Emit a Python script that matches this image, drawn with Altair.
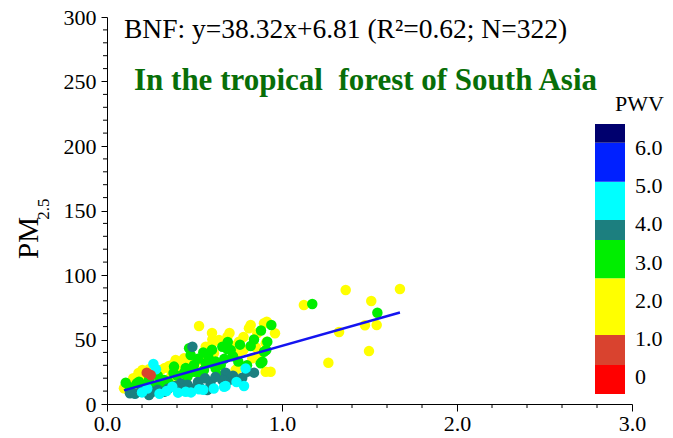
import altair as alt
import pandas as pd

# ---------------- data ----------------
# AOD (x) and PM2.5 (y), grouped by PWV colour class
YELLOW_X = [1.125, 1.364, 1.674, 1.51, 1.541, 1.474, 1.326, 1.497, 1.265, 0.96, 0.913, 0.913, 0.935,
            0.526, 0.821, 0.897, 0.859, 0.811, 0.602, 0.64, 0.688, 0.754, 0.564, 0.907, 0.611, 0.535, 0.83, 0.745, 0.907, 0.45, 0.44,
            0.097, 0.135, 0.173, 0.202, 0.307, 0.354, 0.402, 0.421, 0.211, 0.869, 0.754, 0.735, 0.602, 0.411, 0.392,
            0.15, 0.12, 0.18, 0.24, 0.28, 0.33, 0.37, 0.30, 0.26, 0.22, 0.16, 0.38, 0.42, 0.47, 0.50, 0.36, 0.20, 0.14,
            0.66, 0.70, 0.78, 0.85, 0.72, 0.60, 0.78]
YELLOW_Y = [76.7, 88.4, 89.1, 79.8, 61.2, 61.0, 55.8, 41.0, 32.0, 54.8, 63.8, 48.3, 25.0,
            60.5, 61.2, 62.6, 54.8, 58.7, 50.1, 49.6, 52.2, 48.3, 44.4, 47.0, 39.3, 34.1, 35.4, 27.6, 25.0, 18.6, 35.4,
            12.2, 16.0, 21.2, 26.4, 26.4, 29.5, 32.8, 21.2, 20.0, 38.0, 40.5, 26.4, 47.0, 16.0, 34.1,
            20, 14, 24, 27, 24, 28, 25, 20, 18, 15, 12, 31, 28, 33, 28, 20, 11, 10,
            47, 55, 52, 44, 45, 55, 42]
GREEN_X = [1.173, 1.545, 0.939, 0.91, 0.659, 0.688, 0.821, 0.897, 0.478, 0.888,
           0.592, 0.65, 0.497, 0.554, 0.63, 0.459, 0.107, 0.469, 0.383, 0.183,
           0.326, 0.878, 0.916, 0.707, 0.469, 0.535, 0.621, 0.564,
           0.13, 0.20, 0.27, 0.31, 0.35, 0.40, 0.44, 0.24, 0.29, 0.17, 0.50, 0.52, 0.58,
           0.62, 0.67, 0.72, 0.75, 0.80, 0.55, 0.60, 0.45, 0.38, 0.84, 0.76, 0.88, 0.69]
GREEN_Y = [77.5, 70.8, 61.2, 41.9, 44.4, 42.4, 45.0, 40.5, 38.0, 32.8,
           31.5, 30.2, 30.2, 26.4, 22.5, 21.2, 16.5, 43.2, 29.0, 17.3,
           18.6, 31.5, 48.3, 41.9, 23.8, 21.2, 27.6, 31.5,
           13, 14, 14, 15, 17, 22, 24, 19, 22, 16, 25, 35, 36,
           33, 35, 37, 33, 30, 40, 42, 28, 24, 50, 46, 57, 48]
TEAL_X = [0.488, 0.84, 0.678, 0.697, 0.773, 0.573, 0.592, 0.478, 0.131, 0.193, 0.259, 0.326, 0.421, 0.583, 0.659,
          0.16, 0.22, 0.29, 0.35, 0.39, 0.46, 0.52, 0.56, 0.62, 0.72, 0.80, 0.53, 0.44, 0.24]
TEAL_Y = [44.4, 24.3, 24.3, 18.6, 20.4, 10.9, 17.3, 12.2, 8.3, 9.5, 9.5, 9.5, 16.0, 12.2, 18.6,
          8, 11, 11, 12, 14, 15, 17, 20, 21, 22, 25, 13, 12, 7]
CYAN_X = [0.792, 0.783, 0.526, 0.669, 0.265, 0.373, 0.45, 0.678, 0.406,
          0.20, 0.30, 0.34, 0.48, 0.55, 0.61, 0.23, 0.74, 0.28]
CYAN_Y = [27.6, 14.0, 11.4, 13.4, 31.0, 13.4, 9.5, 14.0, 8.8,
          9, 8, 10, 9, 11, 12, 12, 17, 27]
ORANGE_X = [0.25, 0.227]
ORANGE_Y = [22.5, 24.3]

# PWV value of each colour class
PWV_YELLOW = 1.8
PWV_GREEN = 3.0
PWV_TEAL = 3.85
PWV_CYAN = 4.6
PWV_ORANGE = 0.7

# regression reported in the figure
SLOPE = 38.32
INTERCEPT = 6.81
FIT_X = [0.097, 1.674]

# colour scale (PWV classes)
PWV_THRESHOLDS = [0.307, 1.095, 2.585, 3.591, 4.116, 5.122, 6.147]
PWV_COLORS = ["#FF0000", "#D9432F", "#FFFF00", "#00EE00", "#1C7F7F", "#00FFFF", "#0020FF", "#00006E"]
LEGEND_LO = [-0.454] + PWV_THRESHOLDS
LEGEND_HI = PWV_THRESHOLDS + [6.638]
LEGEND_VALUES = [0, 1, 2, 3, 4, 5, 6]
LEGEND_LABELS = ["0", "1.0", "2.0", "3.0", "4.0", "5.0", "6.0"]

# axis ticks
X_MAJOR = [0, 1, 2, 3]
X_MINOR = [round(i * 0.2, 1) for i in range(16) if i % 5 != 0]
Y_MAJOR = [0, 50, 100, 150, 200, 250, 300]
Y_MINOR = [v for v in range(0, 301, 10) if v % 50 != 0]

# ---------------- build tables ----------------
rows = []
for xs, ys, p in [(YELLOW_X, YELLOW_Y, PWV_YELLOW), (GREEN_X, GREEN_Y, PWV_GREEN),
                  (TEAL_X, TEAL_Y, PWV_TEAL), (CYAN_X, CYAN_Y, PWV_CYAN),
                  (ORANGE_X, ORANGE_Y, PWV_ORANGE)]:
    for a, b in zip(xs, ys):
        rows.append({"aod": a, "pm": b, "pwv": p})
pts = pd.DataFrame(rows)
pts["order"] = range(len(pts))

fit = pd.DataFrame({"aod": FIT_X, "pm": [SLOPE * v + INTERCEPT for v in FIT_X]})
leg = pd.DataFrame({"lo": LEGEND_LO, "hi": LEGEND_HI,
                    "mid": [(a + b) / 2 for a, b in zip(LEGEND_LO, LEGEND_HI)]})
leg_lab = pd.DataFrame({"v": LEGEND_VALUES, "label": LEGEND_LABELS})

FONT = "Liberation Serif"
W, H = 525, 387

xscale = alt.Scale(domain=[0, 3], nice=False, zero=False)
yscale = alt.Scale(domain=[0, 300], nice=False)
cscale = alt.Scale(type="threshold", domain=PWV_THRESHOLDS, range=PWV_COLORS)

xaxis = alt.Axis(values=X_MAJOR, format=".1f", title=None, grid=False, tickSize=7,
                 labelFont=FONT, labelFontSize=22, labelColor="black", labelPadding=2,
                 tickColor="black", domainColor="black", labelFlush=False)
yaxis = alt.Axis(values=Y_MAJOR, title=None, grid=False, tickSize=6,
                 labelFont=FONT, labelFontSize=22, labelColor="black", labelPadding=5,
                 tickColor="black", domainColor="black")

points = alt.Chart(pts).mark_circle(size=110, opacity=1).encode(
    x=alt.X("aod:Q", scale=xscale, axis=xaxis),
    y=alt.Y("pm:Q", scale=yscale, axis=yaxis),
    color=alt.Color("pwv:Q", scale=cscale, legend=None),
    order=alt.Order("order:Q"),
)

line = alt.Chart(fit).mark_line(color="#1414F0", strokeWidth=2.5).encode(
    x=alt.X("aod:Q", scale=xscale, axis=xaxis),
    y=alt.Y("pm:Q", scale=yscale, axis=yaxis),
)

xminor = alt.Chart(pd.DataFrame({"v": X_MINOR})).mark_rule(color="black").encode(
    x=alt.X("v:Q", scale=xscale, axis=xaxis),
    y=alt.value(H), y2=alt.value(H + 4),
)
yminor = alt.Chart(pd.DataFrame({"v": Y_MINOR})).mark_rule(color="black").encode(
    y=alt.Y("v:Q", scale=yscale, axis=yaxis),
    x=alt.value(0), x2=alt.value(-4),
)

eq_text = alt.Chart(pd.DataFrame({"t": ["BNF: y=38.32x+6.81 (R\u00b2=0.62; N=322)"]})).mark_text(
    font=FONT, fontSize=27.5, color="black", align="left", baseline="alphabetic"
).encode(text="t:N", x=alt.value(17), y=alt.value(21))

title_text = alt.Chart(pd.DataFrame({"t": ["In the tropical\u00a0 forest of South Asia"]})).mark_text(
    font=FONT, fontSize=31, fontWeight="bold", color="#086E08", align="left", baseline="alphabetic"
).encode(text="t:N", x=alt.value(27), y=alt.value(73))

pm_text = alt.Chart(pd.DataFrame({"t": ["PM"]})).mark_text(
    font=FONT, fontSize=29, color="black", align="center", baseline="middle", angle=270
).encode(text="t:N", x=alt.value(-78), y=alt.value(221))

sub_text = alt.Chart(pd.DataFrame({"t": ["2.5"]})).mark_text(
    font=FONT, fontSize=17, color="black", align="center", baseline="middle", angle=270
).encode(text="t:N", x=alt.value(-63), y=alt.value(192))

main = alt.layer(points, line, xminor, yminor, eq_text, title_text, pm_text, sub_text)

lscale = alt.Scale(domain=[-0.717, 9.449], nice=False, zero=False)
bar = alt.Chart(leg).mark_rect().encode(
    y=alt.Y("lo:Q", scale=lscale, axis=None),
    y2="hi:Q",
    x=alt.value(488), x2=alt.value(518),
    color=alt.Color("mid:Q", scale=cscale, legend=None),
)
labels = alt.Chart(leg_lab).mark_text(
    font=FONT, fontSize=22, color="black", align="left", baseline="middle"
).encode(
    y=alt.Y("v:Q", scale=lscale, axis=None),
    x=alt.value(528),
    text="label:N",
)
ltitle = alt.Chart(pd.DataFrame({"t": ["PWV"]})).mark_text(
    font=FONT, fontSize=22, color="black", align="left", baseline="middle"
).encode(text="t:N", x=alt.value(508), y=alt.value(87))

legend = alt.layer(bar, labels, ltitle)

chart = alt.layer(main, legend).resolve_scale(y="independent").properties(
    width=W, height=H,
    padding={"left": 107, "top": 17, "right": 41, "bottom": 34},
    autosize=alt.AutoSizeParams(type="none"),
    background="white",
).configure_view(stroke=None)

chart.save("out.html", embed_options={"renderer": "svg", "actions": False})
